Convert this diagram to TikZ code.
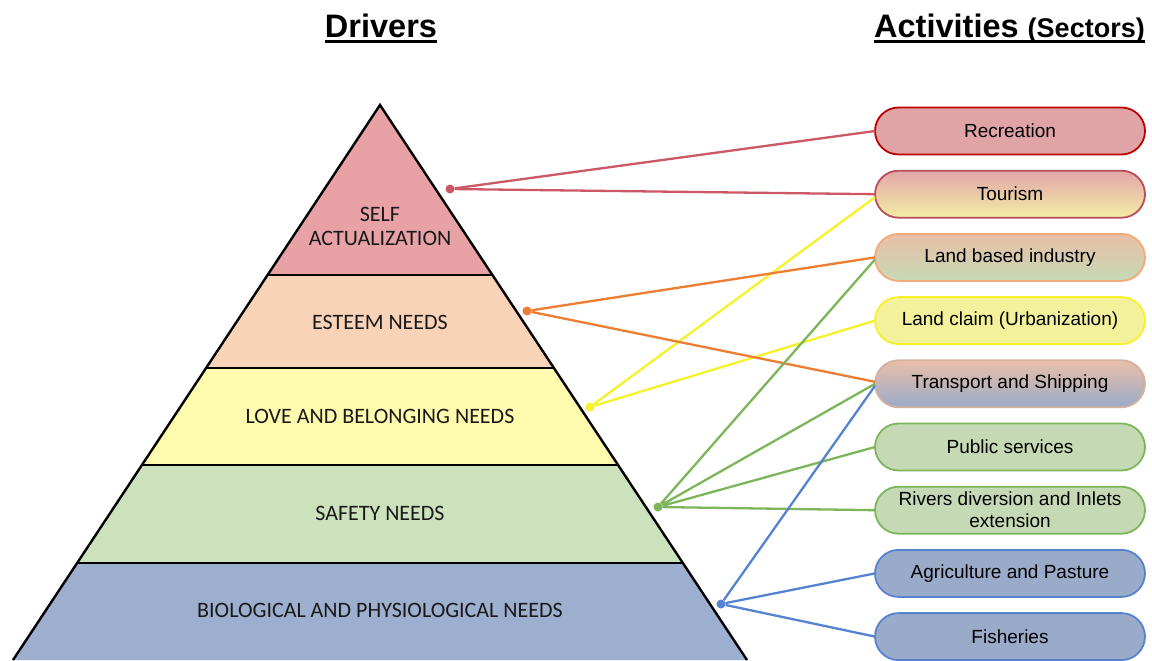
\documentclass[tikz,border=0pt]{standalone}
\usepackage{fontspec}
\setmainfont{Carlito}
\newfontfamily\arialfont{Liberation Sans}
\usetikzlibrary{positioning}
\definecolor{selfc}{HTML}{E8A2A5}
\definecolor{esteemc}{HTML}{F9D3B8}
\definecolor{lovec}{HTML}{FEFBAE}
\definecolor{safetyc}{HTML}{CCE2BD}
\definecolor{bioc}{HTML}{9DAFCE}
\definecolor{redl}{HTML}{CC5765}
\definecolor{orangel}{HTML}{ED7D31}
\definecolor{yellowl}{HTML}{F6F22A}
\definecolor{greenl}{HTML}{7DB55A}
\definecolor{bluel}{HTML}{5683D0}
\definecolor{recreationc}{HTML}{E0A4A6}
\definecolor{pinkc}{HTML}{E2A6A8}
\definecolor{cremec}{HTML}{F3EDA6}
\definecolor{peachc}{HTML}{E9BFA8}
\definecolor{sagec}{HTML}{C6D9B5}
\definecolor{claimc}{HTML}{F3F19C}
\definecolor{steelc}{HTML}{9AABC9}

\begin{document}
\begin{tikzpicture}[x=1pt,y=-1pt,layer/.style={align=center, text=black!90, font=\fontsize{22}{24}\selectfont},head/.style={inner sep=0pt, anchor=base, font=\arialfont\bfseries\fontsize{32.5}{36}\selectfont},sector/.style={draw, line width=1.8pt, rounded corners=23.5pt, minimum width=270pt, minimum height=47pt, inner sep=1pt, outer sep=0pt, align=center, font=\arialfont\fontsize{19}{22}\selectfont},link/.style={line width=2.3pt},dot/.style={circle, inner sep=0pt, minimum size=9pt},node distance=16.2pt]
\useasboundingbox (0,0) rectangle (1152,661);
% headers
\node[head] (drivers) at (381,38) {Drivers};
\node[head, anchor=base west] (activities) at (874,38) {Activities {\fontsize{27}{30}\selectfont(Sectors)}};
\draw[line width=2.8pt] ([yshift=-3.5pt]drivers.base west) -- ([yshift=-3.5pt]drivers.base east);
\draw[line width=2.8pt] ([yshift=-3.5pt]activities.base west) -- ([yshift=-3.5pt]activities.base east);
% pyramid
\fill[selfc] (380,105) -- (492,275) -- (268,275) -- cycle;
\fill[esteemc] (268,275) -- (492,275) -- (554,368) -- (206,368) -- cycle;
\fill[lovec] (206,368) -- (554,368) -- (618,465) -- (142,465) -- cycle;
\fill[safetyc] (142,465) -- (618,465) -- (683,563) -- (77,563) -- cycle;
\fill[bioc] (77,563) -- (683,563) -- (747,660) -- (13,660) -- cycle;
\draw[line width=2.4pt] (13,660) -- (380,105) -- (747,660);
\draw[line width=2.4pt] (268,275) -- (492,275) (206,368) -- (554,368) (142,465) -- (618,465) (77,563) -- (683,563);
\node[layer] (self) at (380,226) {SELF\\ACTUALIZATION};
\node[layer] (esteem) at (380,322) {ESTEEM NEEDS};
\node[layer] (love) at (380,416) {LOVE AND BELONGING NEEDS};
\node[layer] (safety) at (380,513) {SAFETY NEEDS};
\node[layer] (bio) at (380,610) {BIOLOGICAL AND PHYSIOLOGICAL NEEDS};
% sectors
\node[sector, fill=recreationc, draw=red!75!black] (recreation) at (1010,131) {Recreation};
\node[sector, top color=pinkc, bottom color=cremec, draw=redl!90!black, below=of recreation] (tourism) {Tourism};
\node[sector, top color=peachc, bottom color=sagec, draw=orangel!65, below=of tourism] (industry) {Land based industry};
\node[sector, fill=claimc, draw=yellowl, below=of industry] (landclaim) {Land claim (Urbanization)};
\node[sector, top color=peachc, middle color=sagec, bottom color=steelc, draw=peachc!80!gray, below=of landclaim] (transport) {Transport and Shipping};
\node[sector, fill=sagec, draw=greenl, below=of transport] (services) {Public services};
\node[sector, fill=sagec, draw=greenl, below=of services] (rivers) {Rivers diversion and Inlets\\extension};
\node[sector, fill=steelc, draw=bluel, below=of rivers] (agriculture) {Agriculture and Pasture};
\node[sector, fill=steelc, draw=bluel, below=of agriculture] (fisheries) {Fisheries};
% links
\node[dot, fill=redl] (selfdot) at (450,189) {};
\node[dot, fill=orangel] (esteemdot) at (527,311) {};
\node[dot, fill=yellowl] (lovedot) at (590,407) {};
\node[dot, fill=greenl] (safetydot) at (658,507) {};
\node[dot, fill=bluel] (biodot) at (721,604) {};
\draw[link, redl] (selfdot) -- (recreation.west) (selfdot) -- (tourism.west);
\draw[link, yellowl] (lovedot) -- ([yshift=-3pt]tourism.west) (lovedot) -- (landclaim.west);
\draw[link, orangel] (esteemdot) -- (industry.west) (esteemdot) -- ([yshift=2pt]transport.west);
\draw[link, greenl] (safetydot) -- ([yshift=-2pt]industry.west) (safetydot) -- (transport.west) (safetydot) -- (services.west) (safetydot) -- (rivers.west);
\draw[link, bluel] (biodot) -- ([yshift=-2pt]transport.west) (biodot) -- (agriculture.west) (biodot) -- (fisheries.west);
\end{tikzpicture}
\end{document}
